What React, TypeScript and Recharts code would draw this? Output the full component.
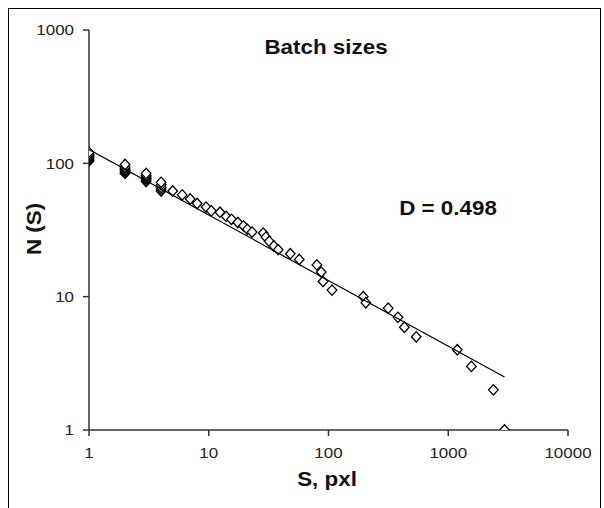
import React from "react";
import { ScatterChart, Scatter, XAxis, YAxis } from "recharts";

// batch size S (pxl) and number of batches N(S)
const sizeS = [
  1, 1, 1, 1, 1, 1, 1, 1,
  2, 2, 2, 2, 2, 2, 2,
  3, 3, 3, 3, 3, 3,
  4, 4, 4, 4, 4,
  5, 6, 7, 8, 9.5, 10.5, 12.4, 14, 15.5, 17.5, 19.5, 21, 23,
  28.5, 30, 32, 35, 38, 48, 57, 80, 87, 90, 107,
  195, 205, 315, 380, 430, 540, 1190, 1560, 2380, 2950,
];
const countN = [
  104, 106, 108, 110, 112, 115, 117, 121,
  84, 86, 88, 90, 92, 94, 98,
  73, 75, 77, 79, 81, 84,
  62, 64, 66, 69, 72,
  62, 58, 54, 50, 47, 44, 43, 40, 38, 36, 34, 32, 30.5,
  30, 28, 26, 24, 22.5, 21, 19, 17.3, 15.3, 13, 11.2,
  10, 9, 8.2, 7, 5.9, 5, 4, 3, 2, 1,
];

// power-law fit, D = 0.498
const fitS = [1, 2950];
const fitN = [127, 2.5];

const xTicks = [1, 10, 100, 1000, 10000];
const yTicks = [1, 10, 100, 1000];

const points = sizeS.map((s, i) => ({ s, n: countN[i] }));
const fit = fitS.map((s, i) => ({ s, n: fitN[i] }));

const FONT = "'Liberation Sans', Arial, sans-serif";

function Diamond(props: any) {
  const { cx, cy } = props;
  if (cx == null || cy == null) return <g />;
  return (
    <path
      d={`M${cx},${cy - 5.2}L${cx + 4.8},${cy}L${cx},${cy + 5.2}L${cx - 4.8},${cy}Z`}
      fill="#fff"
      stroke="#000"
      strokeWidth={1.3}
    />
  );
}

function XTick(props: any) {
  const { x, y, payload } = props;
  return (
    <text
      transform={`translate(${x},${y}) scale(1.13,1)`}
      textAnchor="middle"
      dy="0.71em"
      fontSize={15}
      fontFamily={FONT}
      fill="#222"
    >
      {payload.value}
    </text>
  );
}

function YTick(props: any) {
  const { x, y, payload } = props;
  return (
    <text
      transform={`translate(${x},${y}) scale(1.13,1)`}
      textAnchor="end"
      dy="0.355em"
      fontSize={15}
      fontFamily={FONT}
      fill="#222"
    >
      {payload.value}
    </text>
  );
}

const labelStyle = { fontSize: 20, fontWeight: 700, fontFamily: FONT, fill: "#111" };

export default function App() {
  return (
    <div
      style={{
        position: "fixed",
        left: 0,
        top: 0,
        width: 604,
        height: 508,
        overflow: "hidden",
        background: "#fff",
      }}
    >
      <div
        style={{
          position: "absolute",
          left: 8,
          top: 8,
          width: 591,
          height: 600,
          border: "1px solid #000",
        }}
      />
      <div style={{ position: "absolute", left: 0, top: 0 }}>
        <ScatterChart
          width={604}
          height={508}
          margin={{ top: 30, right: 36, bottom: 48, left: 29 }}
        >
          <XAxis
            type="number"
            dataKey="s"
            scale="log"
            domain={[1, 10000]}
            ticks={xTicks}
            height={30}
            tickSize={6}
            tickMargin={11}
            tick={<XTick />}
            axisLine={{ stroke: "#333", strokeWidth: 1.5 }}
            tickLine={{ stroke: "#333", strokeWidth: 1.5 }}
            allowDataOverflow
          />
          <YAxis
            type="number"
            dataKey="n"
            scale="log"
            domain={[1, 1000]}
            ticks={yTicks}
            width={60}
            tickSize={6}
            tickMargin={9}
            tick={<YTick />}
            axisLine={{ stroke: "#333", strokeWidth: 1.5 }}
            tickLine={{ stroke: "#333", strokeWidth: 1.5 }}
            allowDataOverflow
          />
          <Scatter
            data={points}
            shape={<Diamond />}
            isAnimationActive={false}
          />
          <Scatter
            data={fit}
            line={{ stroke: "#000", strokeWidth: 1.2 }}
            stroke="#000"
            shape={() => <g />}
            isAnimationActive={false}
          />
        </ScatterChart>
      </div>
      <svg
        width={604}
        height={508}
        style={{ position: "absolute", left: 0, top: 0, pointerEvents: "none" }}
      >
        <text transform="translate(326,54) scale(1.12,1)" textAnchor="middle" style={labelStyle}>
          Batch sizes
        </text>
        <text transform="translate(448,215) scale(1.12,1)" textAnchor="middle" style={labelStyle}>
          D = 0.498
        </text>
        <text transform="translate(327,486) scale(1.12,1)" textAnchor="middle" style={labelStyle}>
          S, pxl
        </text>
        <text transform="translate(41,229) rotate(-90) scale(1.12,1)" textAnchor="middle" style={labelStyle}>
          N (S)
        </text>
      </svg>
    </div>
  );
}
